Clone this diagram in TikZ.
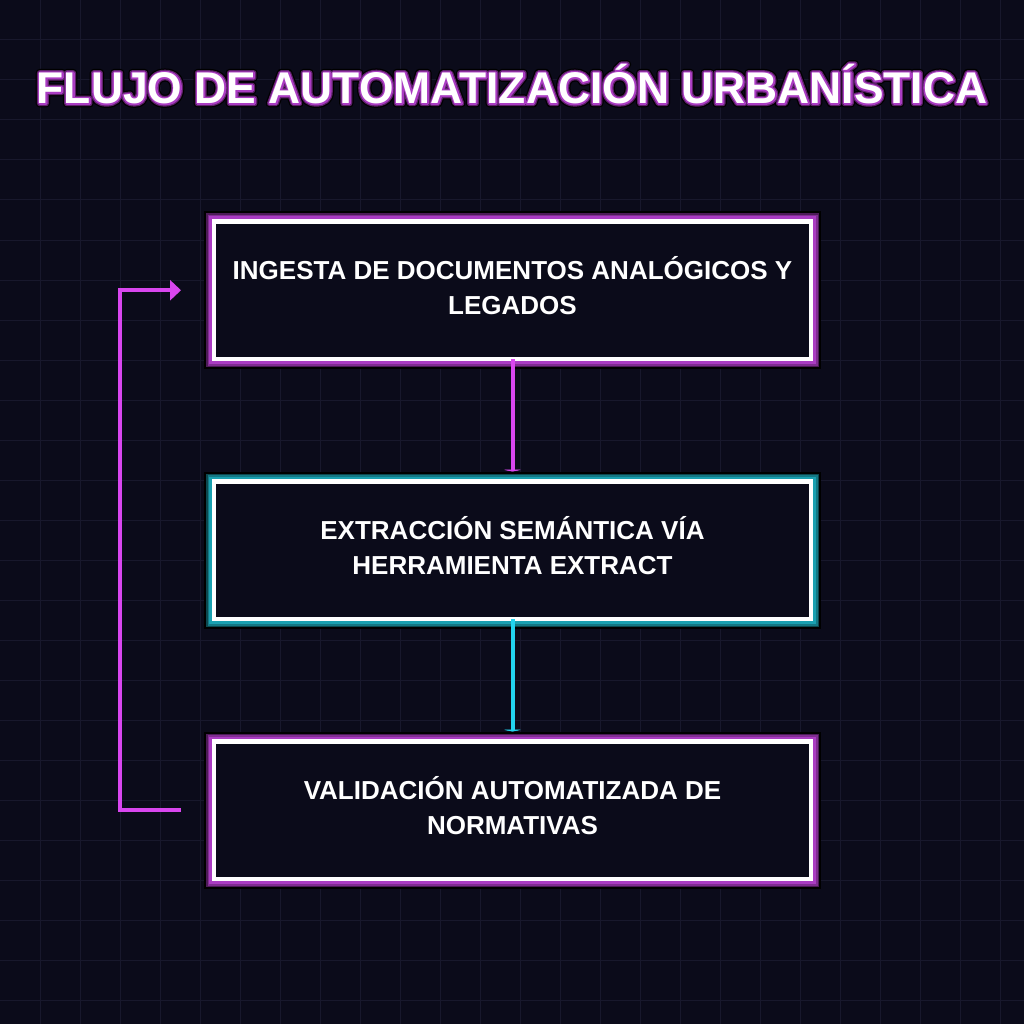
\documentclass[tikz,border=0pt]{standalone}
\usepackage{fontspec}
\setmainfont{Liberation Sans}
\usetikzlibrary{arrows.meta,positioning}
\definecolor{bgdark}{RGB}{11,11,26}
\definecolor{gridcol}{RGB}{24,24,44}
\definecolor{neonpink}{RGB}{217,70,239}
\definecolor{neoncyan}{RGB}{34,211,238}
\definecolor{glowpink}{RGB}{170,60,194}
\definecolor{glowcyan}{RGB}{26,160,176}
% Outlined text: stroke the glyphs with the given width (text render mode 1)
\newcommand{\strokedtext}[2]{\special{pdf:code q #1 w 1 Tr 1 j}#2\special{pdf:code Q}}
\newcommand{\titletext}{FLUJO DE AUTOMATIZACIÓN URBANÍSTICA}
% Two-line box label, lifted a little
\newcommand{\steplabel}[2]{\raisebox{3pt}{\begin{tabular}{@{}c@{}}#1\\#2\end{tabular}}}

\begin{document}
\begin{tikzpicture}[
  x=1pt, y=-1pt,
  node distance=122.5pt,
  % Step box — white frame, fixed size
  stepbox/.style  = {draw=white, line width=4.5pt, fill=bgdark,
                     minimum width=597pt, minimum height=137.5pt,
                     inner sep=0pt, outer sep=0pt, align=center, text=white,
                     font=\fontsize{26}{35}\selectfont\bfseries},
  % Glow layers under the frame
  pinkbox/.style  = {stepbox,
                     preaction={draw=black, line width=20pt},
                     preaction={draw=glowpink!45!black, line width=16pt},
                     preaction={draw=glowpink!75!black, line width=13pt},
                     preaction={draw=glowpink, line width=10pt}},
  cyanbox/.style  = {stepbox,
                     preaction={draw=black, line width=20pt},
                     preaction={draw=glowcyan!45!black, line width=16pt},
                     preaction={draw=glowcyan!75!black, line width=13pt},
                     preaction={draw=glowcyan, line width=10pt}},
  titletxt/.style = {font=\fontsize{44.4}{50}\selectfont\bfseries, inner sep=0pt},
  gridline/.style = {color=gridcol, line width=1pt},
  % Connectors
  flow/.style     = {-{Triangle[length=2pt,width=21pt]}, line width=4pt,
                     shorten >=10pt},
  loopback/.style = {-{Triangle[length=11pt,width=20pt]}, line width=4pt,
                     color=neonpink}
]

% Background and grid, 40 px pitch
\useasboundingbox (0,0) rectangle (1024,1024);
\fill[bgdark] (0,0) rectangle (1024,1024);
\foreach \g in {40,80,...,1000} {
  \draw[gridline] (\g,0) -- (\g,1024);
  \draw[gridline] (0,\g) -- (1024,\g);
}

% Title with glow: stroked layers, then white fill
\node[titletxt, text=black] (title-edge) at (512,84) {\strokedtext{8}{\titletext}};
\node[titletxt, text=glowpink!55!black] (title-halo) at (512,84) {\strokedtext{5.5}{\titletext}};
\node[titletxt, text=glowpink] (title-glow) at (512,84) {\strokedtext{3}{\titletext}};
\node[titletxt, text=white] (title) at (512,84) {\titletext};

% Steps: single column, centre x = 512.5
\node[pinkbox] (ingest) at (512.5,290.25) {\steplabel{INGESTA DE DOCUMENTOS ANALÓGICOS Y}{LEGADOS}};
\node[cyanbox, below=of ingest] (extract) {\steplabel{EXTRACCIÓN SEMÁNTICA VÍA}{HERRAMIENTA EXTRACT}};
\node[pinkbox, below=of extract] (validate) {\steplabel{VALIDACIÓN AUTOMATIZADA DE}{NORMATIVAS}};

% Downward transitions
\draw[flow, neonpink] (ingest.south) -- (extract.north);
\draw[flow, neoncyan] (extract.south) -- (validate.north);

% Loop-back: validation -> ingest (left hook, x = 120)
\coordinate (LB1) at ([xshift=-33pt]validate.west);
\coordinate (LB2) at ([xshift=-33pt]ingest.west);
\draw[loopback] (LB1) -- ++(-61,0) |- (LB2);

\end{tikzpicture}
\end{document}
